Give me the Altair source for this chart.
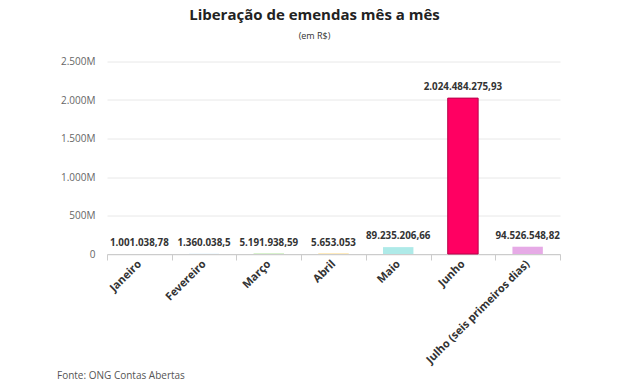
import altair as alt
import pandas as pd

meses = ["Janeiro", "Fevereiro", "Março", "Abril", "Maio", "Junho", "Julho (seis primeiros dias)"]
valores = [1001038.78, 1360038.5, 5191938.59, 5653053, 89235206.66, 2024484275.93, 94526548.82]
rotulos = ["1.001.038,78", "1.360.038,5", "5.191.938,59", "5.653.053", "89.235.206,66", "2.024.484.275,93", "94.526.548,82"]
cores = ["#f7b267", "#7fc8f8", "#9bde7e", "#ffd166", "#aeeae8", "#ff0062", "#e6aae6"]
y_ticks = [0, 500e6, 1000e6, 1500e6, 2000e6, 2500e6]

df = pd.DataFrame({"mes": meses, "valor": valores, "rotulo": rotulos, "cor": cores})

FONT = "Open Sans"

x = alt.X("mes:N", sort=meses, title=None,
          scale=alt.Scale(paddingInner=0, paddingOuter=0),
          axis=alt.Axis(labelAngle=315, labelAlign="right", labelBaseline="middle",
                        labelFont=FONT, labelFontWeight="bold", labelFontSize=11,
                        labelColor="#333", tickBand="extent", tickSize=6,
                        tickColor="#cccccc", domainColor="#cccccc", labelPadding=2,
                        grid=False))
y = alt.Y("valor:Q", title=None,
          scale=alt.Scale(domain=[0, 2500e6], nice=False),
          axis=alt.Axis(values=y_ticks, ticks=False, domain=False, labelPadding=12,
                        labelOverlap=False,
                        labelFont=FONT, labelFontSize=10, labelColor="#666",
                        gridColor="#e8e8e8",
                        labelExpr="datum.value == 0 ? '0' : replace(format(datum.value/1e6, ',d'), ',', '.') + 'M'"))

base = alt.Chart(df).encode(x=x, y=y)

bars = base.mark_bar(width={"band": 0.47}).encode(
    color=alt.Color("cor:N", scale=None),
    stroke=alt.condition(alt.datum.mes == "Junho", alt.value("#b8004a"), alt.value(None)),
    strokeWidth=alt.condition(alt.datum.mes == "Junho", alt.value(1), alt.value(0)),
)

labels = base.mark_text(dy=-6, baseline="bottom", font=FONT, fontWeight="bold",
                        fontSize=9.8, color="#333").encode(text="rotulo:N")

fonte = alt.Chart(pd.DataFrame({"t": ["Fonte: ONG Contas Abertas"]})).mark_text(
    align="left", baseline="middle", font=FONT, fontSize=10, color="#555").encode(
    x=alt.value(-50), y=alt.value(314), text="t:N")

chart = alt.layer(bars, labels, fonte).properties(
    width=453, height=192.5,
    title=alt.TitleParams("Liberação de emendas mês a mês", subtitle="(em R$)",
                          anchor="middle", frame="group", dx=-19, offset=16,
                          font=FONT, fontSize=15, fontWeight="bold", color="#222",
                          subtitleFont=FONT, subtitleFontSize=9, subtitleColor="#333",
                          subtitlePadding=9),
    autosize=alt.AutoSizeParams(type="none"),
    padding={"left": 99, "top": 53.5, "right": 72, "bottom": 128},
).configure_view(stroke=None)

chart.save("out.html", embed_options={"renderer": "svg", "actions": False})
